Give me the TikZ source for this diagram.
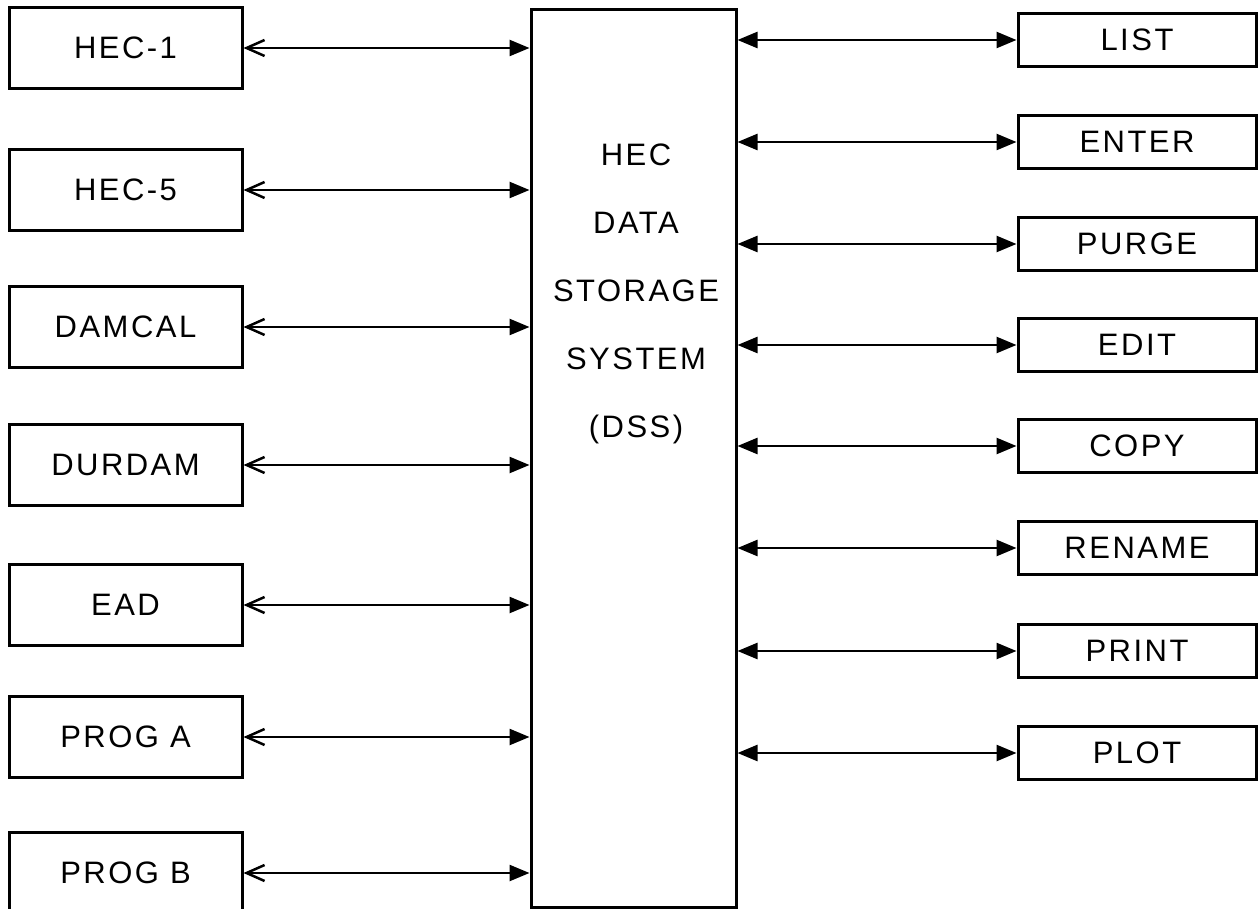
\documentclass[tikz,border=0pt]{standalone}
\usepackage{fontspec}
\setmainfont[LetterSpace=8]{Liberation Sans}
\usetikzlibrary{arrows.meta}
\begin{document}
\begin{tikzpicture}[x=1pt,y=-1pt,
  box/.style={draw, line width=3pt, inner sep=0pt, font=\fontsize{31}{36}\selectfont},
  lbox/.style={box, minimum width=233pt, minimum height=81pt},
  rbox/.style={box, minimum width=238pt, minimum height=53pt},
  llink/.style={line width=2.5pt, {Straight Barb[length=18pt,width=16pt,line width=2.5pt]}-{Triangle[length=20pt,width=16pt]}},
  rlink/.style={line width=2.5pt, {Triangle[length=20pt,width=16pt]}-{Triangle[length=20pt,width=16pt]}}
]
\clip (0,0) rectangle (1259,909);
\fill[white] (0,0) rectangle (1259,909);

% central box
\node[draw, line width=3pt, minimum width=205pt, minimum height=897pt, inner sep=0pt] (dss) at (633.5,458.5) {};
\node[align=center, font=\fontsize{31}{68}\selectfont] (dsslabel) at (636,294)
  {HEC\\DATA\\STORAGE\\SYSTEM\\(DSS)};

% left boxes
\node[lbox] (hec1)   at (125.5,48)  {HEC-1};
\node[lbox] (hec5)   at (125.5,190) {HEC-5};
\node[lbox] (damcal) at (125.5,327) {DAMCAL};
\node[lbox] (durdam) at (125.5,465) {DURDAM};
\node[lbox] (ead)    at (125.5,605) {EAD};
\node[lbox] (proga)  at (125.5,737) {PROG A};
\node[lbox] (progb)  at (125.5,873) {PROG B};

% right boxes
\node[rbox] (list)   at (1137,40)  {LIST};
\node[rbox] (enter)  at (1137,142) {ENTER};
\node[rbox] (purge)  at (1137,244) {PURGE};
\node[rbox] (edit)   at (1137,345) {EDIT};
\node[rbox] (copy)   at (1137,446) {COPY};
\node[rbox] (rename) at (1137,548) {RENAME};
\node[rbox] (print)  at (1137,651) {PRINT};
\node[rbox] (plot)   at (1137,753) {PLOT};

% left connectors
\foreach \n in {hec1,hec5,damcal,durdam,ead,proga,progb}
  \draw[llink] (\n.east) -- (dss.west |- \n.east);

% right connectors
\foreach \n in {list,enter,purge,edit,copy,rename,print,plot}
  \draw[rlink] (dss.east |- \n.west) -- (\n.west);
\end{tikzpicture}
\end{document}
